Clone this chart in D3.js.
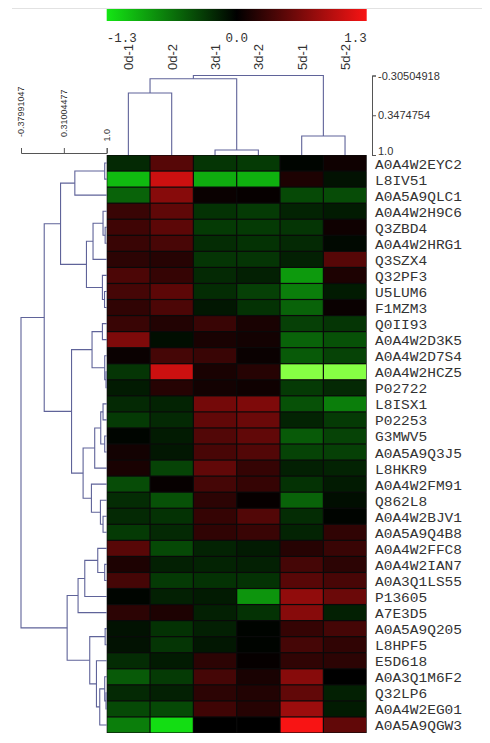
<!DOCTYPE html>
<html><head><meta charset="utf-8">
<script src="https://cdn.jsdelivr.net/npm/d3@7"></script>
<style>body{margin:0;background:#fff}svg{display:block}</style>
</head><body>
<svg id="c" width="490" height="743"></svg>
<script>
// ---------------- data ----------------
const cols = ["0d-1","0d-2","3d-1","3d-2","5d-1","5d-2"];
const rows = ["A0A4W2EYC2","L8IV51","A0A5A9QLC1","A0A4W2H9C6","Q3ZBD4","A0A4W2HRG1","Q3SZX4","Q32PF3","U5LUM6","F1MZM3","Q0II93","A0A4W2D3K5","A0A4W2D7S4","A0A4W2HCZ5","P02722","L8ISX1","P02253","G3MWV5","A0A5A9Q3J5","L8HKR9","A0A4W2FM91","Q862L8","A0A4W2BJV1","A0A5A9Q4B8","A0A4W2FFC8","A0A4W2IAN7","A0A3Q1LS55","P13605","A7E3D5","A0A5A9Q205","L8HPF5","E5D618","A0A3Q1M6F2","Q32LP6","A0A4W2EG01","A0A5A9QGW3"];
const values = [
  [-0.23, 0.45,-0.30,-0.33,-0.03, 0.08],
  [-1.05, 1.07,-0.97,-1.00, 0.15,-0.10],
  [-0.56, 0.71, 0.05, 0.03,-0.41,-0.43],
  [ 0.30, 0.50,-0.28,-0.33,-0.20,-0.15],
  [ 0.33, 0.48,-0.33,-0.33,-0.30, 0.08],
  [ 0.30, 0.38,-0.25,-0.28,-0.23,-0.05],
  [ 0.23, 0.20,-0.30,-0.30,-0.18, 0.45],
  [ 0.40, 0.28,-0.23,-0.18,-0.87, 0.15],
  [ 0.36, 0.48,-0.25,-0.36,-0.71,-0.15],
  [ 0.25, 0.40,-0.13,-0.28,-0.56, 0.05],
  [ 0.30, 0.18, 0.30, 0.13,-0.36,-0.30],
  [ 0.66,-0.08, 0.13, 0.10,-0.56,-0.46],
  [ 0.05, 0.36, 0.30, 0.05,-0.51,-0.38],
  [-0.30, 1.07, 0.13, 0.20,-1.80,-1.80],
  [-0.15, 0.20, 0.10, 0.08,-0.33,-0.23],
  [-0.23,-0.20, 0.61, 0.66,-0.46,-0.71],
  [-0.33,-0.23, 0.51, 0.56,-0.20,-0.33],
  [-0.03,-0.15, 0.43, 0.51,-0.51,-0.38],
  [ 0.10,-0.13, 0.38, 0.43,-0.38,-0.36],
  [ 0.13,-0.38, 0.51, 0.28,-0.18,-0.20],
  [-0.43, 0.03, 0.36, 0.28,-0.28,-0.15],
  [-0.25,-0.46, 0.23, 0.03,-0.56,-0.08],
  [-0.23,-0.28, 0.28, 0.43,-0.25,-0.02],
  [-0.33,-0.23, 0.25, 0.30,-0.20, 0.25],
  [ 0.46,-0.41,-0.20,-0.15, 0.20, 0.30],
  [ 0.15,-0.18,-0.20,-0.18, 0.36, 0.23],
  [ 0.36,-0.33,-0.28,-0.28, 0.46, 0.38],
  [-0.03,-0.18,-0.15,-0.84, 0.76, 0.56],
  [ 0.23, 0.15,-0.18,-0.28, 0.71,-0.18],
  [-0.10,-0.28,-0.18,-0.02, 0.28, 0.36],
  [-0.10,-0.30,-0.13,-0.02, 0.36, 0.25],
  [-0.25,-0.15, 0.23, 0.03, 0.25, 0.23],
  [-0.51,-0.33, 0.36, 0.13, 0.71, 0.00],
  [-0.23,-0.18, 0.23, 0.18, 0.51,-0.18],
  [-0.41,-0.41, 0.33, 0.20, 0.82,-0.15],
  [-0.71,-1.25, 0.00, 0.00, 1.30, 0.51]
];
// linkage: [childA, childB, similarity]; numbers refer to earlier merges
const rowMerges = [
  ["A0A4W2EYC2","L8IV51",0.968],      //0
  [0,"A0A5A9QLC1",0.487],             //1
  ["Q3ZBD4","A0A4W2HRG1",0.975],      //2
  ["A0A4W2H9C6",2,0.941],             //3
  [3,"Q3SZX4",0.780],                 //4
  ["U5LUM6","F1MZM3",0.965],          //5
  ["Q32PF3",5,0.931],                 //6
  [4,6,0.674],                        //7
  [1,7,0.257],                        //8
  ["Q0II93","A0A4W2D3K5",0.931],      //9
  ["A0A4W2HCZ5","P02722",0.989],      //10
  ["A0A4W2D7S4",10,0.968],            //11
  [9,11,0.764],                       //12
  ["L8ISX1","P02253",0.941],          //13
  ["G3MWV5","A0A5A9Q3J5",0.968],      //14
  [13,14,0.904],                      //15
  [15,"L8HKR9",0.807],                //16
  ["A0A4W2BJV1","A0A5A9Q4B8",0.941],  //17
  ["Q862L8",17,0.899],                //18
  ["A0A4W2FM91",18,0.754],            //19
  [16,19,0.620],                      //20
  [12,20,0.434],                      //21
  [8,21,-0.006],                      //22
  ["A0A4W2IAN7","A0A3Q1LS55",0.968],  //23
  ["A0A4W2FFC8",23,0.856],            //24
  [24,"P13605",0.647],                //25
  [25,"A7E3D5",0.539],                //26
  ["A0A5A9Q205","L8HPF5",0.975],      //27
  ["Q32LP6","A0A4W2EG01",0.989],      //28
  ["A0A3Q1M6F2",28,0.968],            //29
  [29,"A0A5A9QGW3",0.888],            //30
  ["E5D618",30,0.835],                //31
  [27,31,0.727],                      //32
  [26,32,0.363],                      //33
  [22,33,-0.37991047]                 //34
];
const colMerges = [
  ["0d-1","0d-2",-0.018],
  ["3d-1","3d-2",0.918],
  [0,1,-0.2525],
  ["5d-1","5d-2",0.688],
  [2,3,-0.30504918]
];
const rowTicks = [-0.37991047, 0.31004477, 1.0];
const rowTickLabels = ["-0.37991047","0.31004477","1.0"];
const colTicks = [-0.30504918, 0.3474754, 1.0];
const colTickLabels = ["-0.30504918","0.3474754","1.0"];
const barTicks = [-1.3, 0, 1.3];
const barTickLabels = ["-1.3","0.0","1.3"];

// ---------------- scales ----------------
const svg = d3.select("#c");
const heatL = 106.7, heatR = 366.7, heatT = 155, heatB = 733;
const xB = d3.scaleBand().domain(cols).range([heatL, heatR]);
const yB = d3.scaleBand().domain(rows).range([heatT, heatB]);
const color = d3.scaleLinear()
  .domain([-1.8, -1.3, 0, 1.3])
  .range(["#86ff44", "#14e614", "#000000", "#f81414"])
  .clamp(true);
const rowH = d3.scaleLinear().domain([-0.37991047, 1.0]).range([21, heatL]);
const colH = d3.scaleLinear().domain([-0.30504918, 1.0]).range([75.5, heatT]);
const barX = d3.scaleLinear().domain([-1.3, 1.3]).range([heatL, heatR]);
const lineColor = "#5f6399";

// ---------------- colour bar ----------------
svg.append("line").attr("x1", 12).attr("x2", 482).attr("y1", 8.5).attr("y2", 8.5)
  .attr("stroke", "#e2e2e2").attr("stroke-width", 1);
const grad = svg.append("defs").append("linearGradient").attr("id", "g")
  .attr("x1", "0%").attr("x2", "100%");
d3.range(0, 1.0001, 0.05).forEach(t => {
  const v = -1.3 + 2.6 * t;
  grad.append("stop").attr("offset", (t * 100) + "%").attr("stop-color", color(v));
});
svg.append("rect").attr("x", barX(-1.3)).attr("y", 9).attr("width", barX(1.3) - barX(-1.3))
  .attr("height", 12).attr("fill", "url(#g)");
svg.selectAll(".bt").data(barTicks).enter().append("text")
  .attr("x", d => barX(d)).attr("y", 41.5)
  .attr("text-anchor", (d, i) => i === 0 ? "start" : (i === 2 ? "end" : "middle"))
  .attr("font-family", "Liberation Mono, monospace").attr("font-size", 12.5)
  .attr("fill", "#333")
  .text((d, i) => barTickLabels[i]);

// ---------------- column labels ----------------
svg.selectAll(".cl").data(cols).enter().append("text")
  .attr("transform", d => `translate(${xB(d) + xB.bandwidth() / 2 + 4.8},70) rotate(-90)`)
  .attr("font-family", "Liberation Sans, Arial, sans-serif").attr("font-size", 13)
  .attr("fill", "#333")
  .text(d => d);

// ---------------- heatmap ----------------
svg.append("rect").attr("x", heatL).attr("y", heatT).attr("width", heatR - heatL)
  .attr("height", heatB - heatT).attr("fill", "#0a0a0a");
const cells = [];
rows.forEach((r, i) => cols.forEach((c, j) => cells.push({ r, c, v: values[i][j] })));
svg.selectAll(".cell").data(cells).enter().append("rect")
  .attr("x", d => xB(d.c) + 0.6).attr("y", d => yB(d.r) + 0.6)
  .attr("width", xB.bandwidth() - 1.2).attr("height", yB.bandwidth() - 1.2)
  .attr("fill", d => color(d.v));

// row labels
svg.selectAll(".rl").data(rows).enter().append("text")
  .attr("x", 375).attr("y", d => yB(d) + yB.bandwidth() / 2 + 5.5)
  .attr("font-family", "Liberation Mono, monospace").attr("font-size", 13.5)
  .attr("textLength", d => d.length * 8.7).attr("lengthAdjust", "spacingAndGlyphs")
  .attr("fill", "#333")
  .text(d => d);

// ---------------- dendrograms ----------------
function layout(merges, band) {
  const nodes = [];
  const get = k => typeof k === "number" ? nodes[k] : { pos: band(k) + band.bandwidth() / 2, h: 1.0 };
  merges.forEach(([a, b, h]) => {
    const A = get(a), B = get(b);
    nodes.push({ pos: (A.pos + B.pos) / 2, h, A, B });
  });
  return nodes;
}
const rowNodes = layout(rowMerges, yB);
svg.append("g").selectAll("path").data(rowNodes).enter().append("path")
  .attr("d", n => `M${rowH(n.A.h)},${n.A.pos}H${rowH(n.h)}V${n.B.pos}H${rowH(n.B.h)}`)
  .attr("fill", "none").attr("stroke", lineColor).attr("stroke-width", 1.1);
const colNodes = layout(colMerges, xB);
svg.append("g").selectAll("path").data(colNodes).enter().append("path")
  .attr("d", n => `M${n.A.pos},${colH(n.A.h)}V${colH(n.h)}H${n.B.pos}V${colH(n.B.h)}`)
  .attr("fill", "none").attr("stroke", lineColor).attr("stroke-width", 1.1);

// ---------------- dendrogram scales ----------------
const gc = svg.append("g").attr("transform", "translate(372,0)")
  .call(d3.axisRight(colH).tickValues(colTicks).tickSize(4).tickSizeOuter(4)
    .tickFormat((d, i) => colTickLabels[i]));
gc.selectAll("path,line").attr("stroke", "#555");
gc.selectAll("text").attr("font-family", "Liberation Sans, Arial, sans-serif")
  .attr("font-size", 11).attr("fill", "#333").attr("x", 6)
  .attr("y", (d, i) => i === 2 ? -4 : 0);

const gr = svg.append("g").attr("transform", "translate(0,153)")
  .call(d3.axisTop(rowH).tickValues(rowTicks).tickSize(5).tickSizeOuter(5)
    .tickFormat(() => ""));
gr.selectAll("path,line").attr("stroke", "#555");
svg.selectAll(".rt").data(rowTicks).enter().append("text")
  .attr("transform", (d, i) => `translate(${rowH(d) + 3.2},${i === 2 ? 141.5 : 137}) rotate(-90)`)
  .attr("font-family", "Liberation Sans, Arial, sans-serif").attr("font-size", 9)
  .attr("fill", "#333")
  .text((d, i) => rowTickLabels[i]);
</script>
</body></html>
